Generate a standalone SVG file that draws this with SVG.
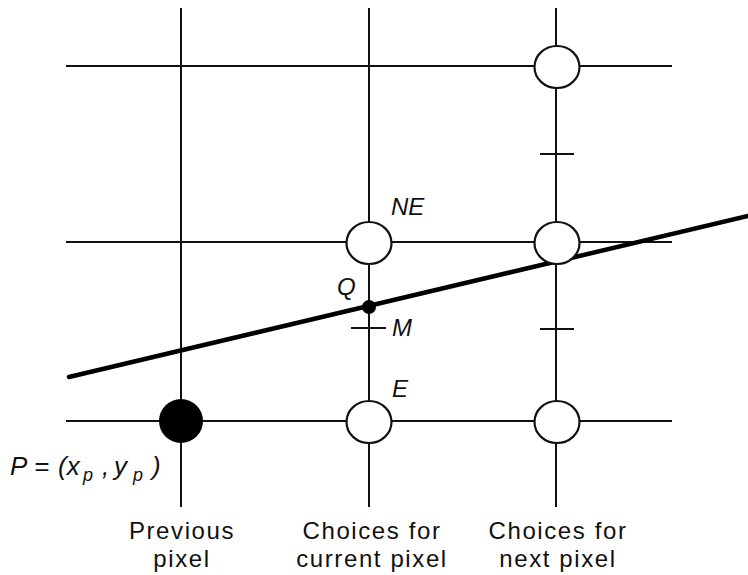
<svg xmlns="http://www.w3.org/2000/svg" width="748" height="575" viewBox="0 0 748 575">
<style>
.grid{stroke:#111;stroke-width:2;fill:none}
.px{fill:#fff;stroke:#111;stroke-width:2.2}
.lab{font-family:"Liberation Sans",Arial,sans-serif;font-size:24px;letter-spacing:1.6px;fill:#111;text-anchor:middle}
.it{font-family:"Liberation Sans",Arial,sans-serif;font-style:italic;font-size:24px;fill:#111}
.big{font-size:26px}
.sub{font-size:18px}
</style>
<rect width="748" height="575" fill="#fff"/>
<g id="connectors">
<line class="grid" x1="181" y1="8" x2="181" y2="507"/>
<line class="grid" x1="369" y1="8" x2="369" y2="507"/>
<line class="grid" x1="556" y1="8" x2="556" y2="507"/>
<line class="grid" x1="66" y1="66" x2="672" y2="66"/>
<line class="grid" x1="66" y1="242" x2="672" y2="242"/>
<line class="grid" x1="66" y1="421" x2="672" y2="421"/>
<line class="grid" x1="540" y1="154" x2="574" y2="154"/>
<line class="grid" x1="540" y1="329" x2="574" y2="329"/>
<line id="line" x1="69" y1="377" x2="748" y2="216" stroke="#000" stroke-width="4.5" stroke-linecap="round"/>
</g>
<g id="prev"><circle cx="181" cy="421" r="22" fill="#000"/></g>
<g id="E"><ellipse class="px" cx="369" cy="422" rx="22.5" ry="21"/><text class="it" x="392" y="397">E</text></g>
<g id="NE"><ellipse class="px" cx="369" cy="243" rx="22.5" ry="21"/><text class="it" x="391" y="215">NE</text></g>
<g id="next-top"><ellipse class="px" cx="557" cy="67" rx="22.5" ry="21"/></g>
<g id="next-mid"><ellipse class="px" cx="557" cy="243" rx="22.5" ry="21"/></g>
<g id="next-bot"><ellipse class="px" cx="557" cy="422" rx="22.5" ry="21"/></g>
<g id="M"><line class="grid" x1="351" y1="328" x2="386" y2="328"/><text class="it" x="392" y="336">M</text></g>
<g id="Q"><circle cx="369" cy="307" r="7" fill="#000"/><text class="it" x="337" y="295">Q</text></g>
<g id="P"><text class="it big" y="475"><tspan x="10">P</tspan><tspan x="34">=</tspan><tspan x="58">(x</tspan><tspan class="sub" x="83" y="481">p</tspan><tspan x="102" y="475">,</tspan><tspan x="114">y</tspan><tspan class="sub" x="133" y="481">p</tspan><tspan x="152" y="475">)</tspan></text></g>
<g id="labels">
<text class="lab" x="182" y="539">Previous</text>
<text class="lab" x="182" y="567">pixel</text>
<text class="lab" x="372" y="539">Choices for</text>
<text class="lab" x="372" y="567">current pixel</text>
<text class="lab" x="558" y="539">Choices for</text>
<text class="lab" x="558" y="567">next pixel</text>
</g>
</svg>
